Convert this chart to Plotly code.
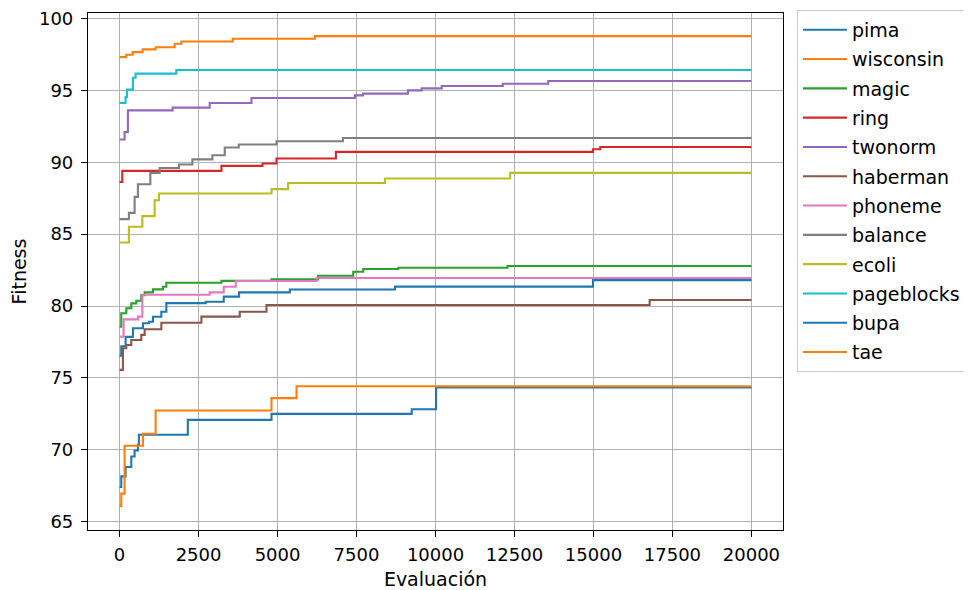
import plotly.graph_objects as go

# ---- data ----
pima_x = [0, 53, 190, 422, 739, 929, 1056, 1322, 1480, 2726, 3297, 3782, 5389, 8718, 14985, 20000]
pima_y = [76.55, 77.2, 77.85, 78.45, 78.8, 78.9, 79.25, 79.6, 80.2, 80.3, 80.65, 80.95, 81.15, 81.35, 81.8, 81.8]

wisconsin_x = [0, 212, 412, 729, 1141, 1743, 1956, 3582, 6181, 20000]
wisconsin_y = [97.31, 97.48, 97.66, 97.85, 98.0, 98.24, 98.40, 98.59, 98.77, 98.77]

magic_x = [0, 53, 212, 370, 529, 687, 793, 1056, 1373, 1480, 3224, 4809, 6286, 7396, 7713, 8822, 12277, 20000]
magic_y = [78.56, 79.5, 79.84, 80.18, 80.37, 80.76, 80.95, 81.16, 81.34, 81.62, 81.75, 81.85, 82.1, 82.38, 82.57, 82.66, 82.78, 82.78]

ring_x = [0, 85, 3224, 4524, 4967, 6847, 14985, 15216, 20000]
ring_y = [88.63, 89.4, 89.75, 89.91, 90.26, 90.72, 90.9, 91.06, 91.06]

twonorm_x = [0, 159, 263, 1680, 2853, 4175, 7450, 7703, 9130, 9564, 10198, 12131, 13568, 20000]
twonorm_y = [91.58, 92.1, 93.61, 93.8, 94.12, 94.47, 94.65, 94.77, 95.0, 95.14, 95.3, 95.46, 95.65, 95.65]

haberman_x = [0, 105, 212, 370, 687, 793, 1322, 2590, 3804, 4650, 16779, 20000]
haberman_y = [75.56, 77.06, 77.29, 77.64, 77.99, 78.38, 78.84, 79.26, 79.6, 80.07, 80.42, 80.42]

phoneme_x = [0, 127, 580, 720, 2853, 3297, 3677, 6235, 20000]
phoneme_y = [77.87, 79.07, 79.26, 80.78, 80.95, 81.34, 81.74, 81.95, 81.95]

balance_x = [0, 295, 475, 580, 973, 1268, 1880, 2305, 2938, 3328, 3772, 4967, 7069, 20000]
balance_y = [86.04, 86.48, 87.59, 88.47, 89.26, 89.6, 89.84, 90.2, 90.49, 91.02, 91.23, 91.46, 91.69, 91.69]

ecoli_x = [0, 295, 720, 1110, 1246, 4809, 5335, 8400, 12363, 20000]
ecoli_y = [84.42, 85.51, 86.25, 87.36, 87.83, 88.13, 88.56, 88.87, 89.26, 89.26]

pageblocks_x = [0, 190, 232, 422, 507, 1797, 20000]
pageblocks_y = [94.12, 94.54, 95.05, 95.88, 96.16, 96.42, 96.42]

bupa_x = [0, 53, 190, 370, 475, 580, 612, 2160, 4809, 9247, 10017, 20000]
bupa_y = [67.41, 68.15, 68.8, 69.53, 69.95, 70.35, 71.04, 72.08, 72.5, 72.82, 74.33, 74.33]

tae_x = [0, 53, 159, 739, 1141, 4809, 5601, 20000]
tae_y = [66.1, 66.95, 70.28, 71.11, 72.73, 73.59, 74.42, 74.42]

names = ["pima", "wisconsin", "magic", "ring", "twonorm", "haberman",
         "phoneme", "balance", "ecoli", "pageblocks", "bupa", "tae"]
series_x = [pima_x, wisconsin_x, magic_x, ring_x, twonorm_x, haberman_x,
            phoneme_x, balance_x, ecoli_x, pageblocks_x, bupa_x, tae_x]
series_y = [pima_y, wisconsin_y, magic_y, ring_y, twonorm_y, haberman_y,
            phoneme_y, balance_y, ecoli_y, pageblocks_y, bupa_y, tae_y]
colors = ["#1f77b4", "#ff7f0e", "#2ca02c", "#d62728", "#9467bd", "#8c564b",
          "#e377c2", "#7f7f7f", "#bcbd22", "#17becf", "#1f77b4", "#ff7f0e"]

x_ticks = [0, 2500, 5000, 7500, 10000, 12500, 15000, 17500, 20000]
x_ticklabels = ["0", "2500", "5000", "7500", "10000", "12500", "15000", "17500", "20000"]
y_ticks = [65, 70, 75, 80, 85, 90, 95, 100]
y_ticklabels = ["65", "70", "75", "80", "85", "90", "95", "100"]

FONT = "DejaVu Sans"
FS_TICK = 18
FS_TEXT = 19

fig = go.Figure()
for i, (n, xs, ys, c) in enumerate(zip(names, series_x, series_y, colors)):
    fig.add_trace(go.Scatter(
        x=xs, y=ys, name=n, mode="lines",
        line=dict(color=c, width=2.1, shape="hv"),
        legendgroup="g%d" % i,
    ))

axis_common = dict(
    showgrid=True, gridcolor="#b0b0b0", gridwidth=1.1,
    showline=True, linecolor="black", linewidth=1.2, mirror=True,
    ticks="outside", ticklen=6, tickcolor="black", tickwidth=1.2,
    zeroline=False, automargin=False, ticklabeloverflow="allow",
    tickfont=dict(family=FONT, size=FS_TICK, color="black"),
)

# the page body has an 8px margin, so the figure is sized/margined to land the
# plot area where the reference has it
fig.update_layout(
    width=964, height=582,
    margin=dict(l=80, r=189, t=5, b=60, autoexpand=False),
    paper_bgcolor="white", plot_bgcolor="white",
    font=dict(family=FONT, size=FS_TEXT, color="black"),
    xaxis=dict(range=[-1000, 21000], tickvals=x_ticks, ticktext=x_ticklabels,
               ticklabelstandoff=2,
               title=dict(text="Evaluación", font=dict(family=FONT, size=FS_TEXT), standoff=11),
               **axis_common),
    yaxis=dict(range=[64.42, 100.38], tickvals=y_ticks, ticktext=y_ticklabels,
               ticklabelstandoff=4,
               title=dict(text="Fitness", font=dict(family=FONT, size=FS_TEXT), standoff=16),
               **axis_common),
    legend=dict(
        x=1.0201, y=1.006, xanchor="left", yanchor="top",
        bordercolor="#cccccc", borderwidth=1, bgcolor="rgba(255,255,255,0.8)",
        font=dict(family=FONT, size=FS_TEXT, color="black"),
        tracegroupgap=1.6, itemwidth=44, maxheight=560,
    ),
)

fig.write_html("out.html")
